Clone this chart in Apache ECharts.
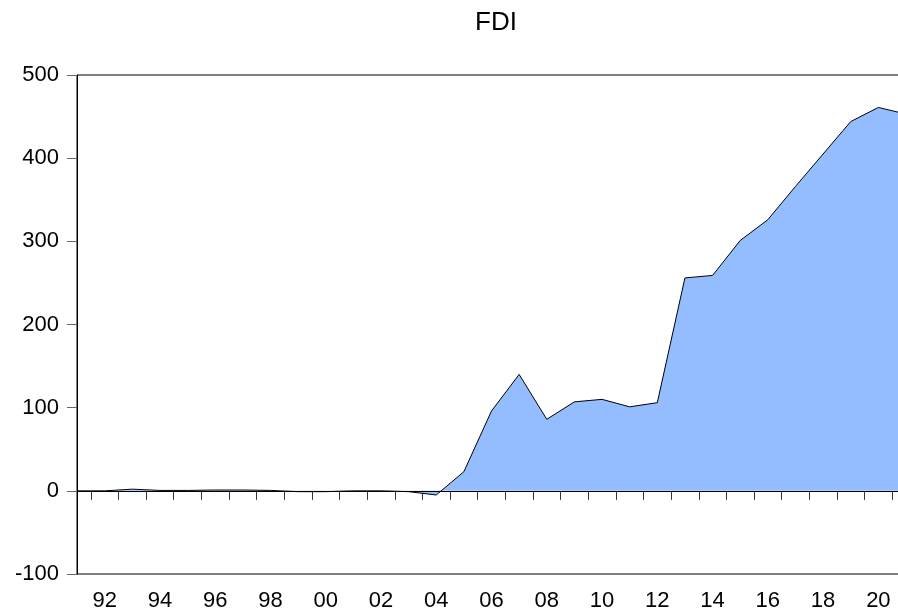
<!DOCTYPE html>
<html>
<head>
<meta charset="utf-8">
<script src="https://cdn.jsdelivr.net/npm/echarts@6/dist/echarts.min.js"></script>
<style>html,body{margin:0;padding:0;background:#fff}#c{width:898px;height:614px}</style>
</head>
<body>
<div id="c"></div>
<script>
var years = [1991,1992,1993,1994,1995,1996,1997,1998,1999,2000,2001,2002,2003,2004,2005,2006,2007,2008,2009,2010,2011,2012,2013,2014,2015,2016,2017,2018,2019,2020,2021];
var fdi = [0,0,2,0.5,0.5,1,1,0.5,-1,-1,0,0,-1,-5,23,96,140,86,107,110,101,106,256,259,301,326,366,405,444,461,453];
var yTicks = [-100,0,100,200,300,400,500];
var xLabelYears = [1992,1994,1996,1998,2000,2002,2004,2006,2008,2010,2012,2014,2016,2018,2020];
var xTickPositions = [];
for (var i = 0; i < years.length - 1; i++) xTickPositions.push(years[i] + 0.5);

var chart = echarts.init(document.getElementById('c'), null, {renderer: 'canvas'});
var font = 'Liberation Sans, Arial, sans-serif';
chart.setOption({
  animation: false,
  backgroundColor: '#ffffff',
  title: {
    text: 'FDI',
    left: 491, top: 5,
    textAlign: 'center',
    textStyle: {fontFamily: font, fontSize: 26, fontWeight: 'normal', color: '#000'}
  },
  grid: {
    left: 77, right: -8, top: 75, bottom: 40,
    show: true, borderColor: '#000', borderWidth: 1,
    containLabel: false, outerBoundsMode: 'none'
  },
  xAxis: {
    type: 'value',
    min: years[0], max: years[years.length - 1],
    axisLine: {show: true, lineStyle: {color: '#000', width: 1}},
    axisTick: {show: true, inside: false, length: 9, customValues: xTickPositions, lineStyle: {color: '#333'}},
    axisLabel: {
      customValues: xLabelYears, margin: 16,
      fontFamily: font, fontSize: 22, color: '#000',
      formatter: function (v) { return String(Math.round(v) % 100).padStart(2, '0'); }
    },
    splitLine: {show: false}
  },
  yAxis: {
    type: 'value',
    min: yTicks[0], max: yTicks[yTicks.length - 1], interval: 100,
    axisLine: {show: true, lineStyle: {color: '#000', width: 1}},
    axisTick: {show: true, inside: false, length: 10, lineStyle: {color: '#666'}},
    axisLabel: {margin: 18, fontFamily: font, fontSize: 22, color: '#000'},
    splitLine: {show: false}
  },
  series: [{
    type: 'line',
    data: years.map(function (y, i) { return [y, fdi[i]]; }),
    symbol: 'none',
    lineStyle: {color: '#000', width: 1},
    areaStyle: {color: '#94BDFF', opacity: 1},
    markLine: {
      silent: true, symbol: 'none', label: {show: false},
      lineStyle: {color: '#000', width: 1, type: 'solid'},
      data: [{yAxis: 0}]
    }
  }]
});
</script>
</body>
</html>
